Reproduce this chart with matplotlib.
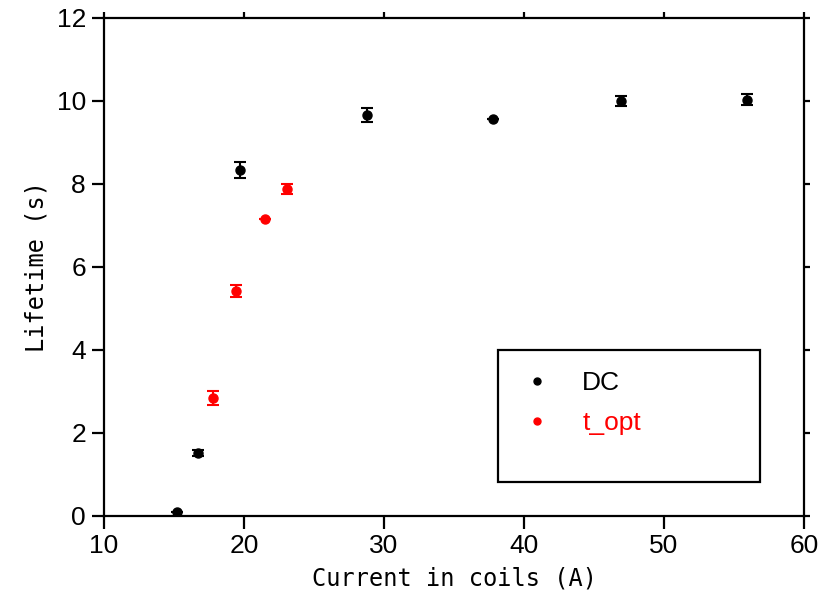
import matplotlib.pyplot as plt
from matplotlib.lines import Line2D
from matplotlib.patches import Rectangle

# DC series
dc_current = [15.2, 16.7, 19.7, 28.8, 37.8, 46.9, 55.9]
dc_lifetime = [0.10, 1.51, 8.33, 9.66, 9.57, 10.00, 10.03]
dc_err = [0.0, 0.07, 0.19, 0.16, 0.0, 0.13, 0.13]

# t_opt series
opt_current = [17.8, 19.4, 21.5, 23.1]
opt_lifetime = [2.84, 5.42, 7.16, 7.88]
opt_err = [0.16, 0.15, 0.0, 0.13]

x_ticks = [10, 20, 30, 40, 50, 60]
y_ticks = [0, 2, 4, 6, 8, 10, 12]

fig = plt.figure(figsize=(8.21, 5.92), dpi=100)
ax = fig.add_axes([0.1267, 0.1284, 0.8526, 0.8412])

ax.errorbar(dc_current, dc_lifetime, yerr=dc_err, fmt="o", color="black",
            markersize=6.5, capsize=4, elinewidth=1.5, capthick=1.5)
ax.errorbar(opt_current, opt_lifetime, yerr=opt_err, fmt="o", color="red",
            markersize=6.5, capsize=4, elinewidth=1.5, capthick=1.5)

ax.set_xlim(10, 60)
ax.set_ylim(0, 12)
ax.set_xticks(x_ticks)
ax.set_yticks(y_ticks)

for s in ax.spines.values():
    s.set_linewidth(1.6)

ax.tick_params(axis="both", which="major", direction="out", length=9,
               width=1.6, labelsize=19, pad=4, top=True, right=True)
for t in ax.xaxis.get_major_ticks() + ax.yaxis.get_major_ticks():
    t.tick2line.set_markersize(4)
for lab in ax.get_xticklabels() + ax.get_yticklabels():
    lab.set_family("Liberation Sans")

ax.set_xlabel("Current in coils (A)", family="DejaVu Sans Mono",
              fontsize=17, labelpad=6)
ax.set_ylabel("Lifetime (s)", family="DejaVu Sans Mono", fontsize=17,
              labelpad=6)

# legend frame drawn as its own box, entries are plain dots
ax.add_patch(Rectangle((0.563, 0.068), 0.374, 0.265, transform=ax.transAxes,
                       fill=False, edgecolor="black", linewidth=1.6,
                       zorder=5))
handles = [Line2D([], [], ls="none", marker="o", color="black", markersize=5),
           Line2D([], [], ls="none", marker="o", color="red", markersize=5)]
leg = ax.legend(handles, ["DC", "t_opt"], loc="upper left",
                bbox_to_anchor=(0.574, 0.328), frameon=False,
                prop={"family": "Liberation Sans", "size": 19},
                handlelength=1.0, handletextpad=1.2, labelspacing=0.6,
                borderpad=0.2)
leg.get_texts()[0].set_color("black")
leg.get_texts()[1].set_color("red")

fig.savefig("out.png", dpi=100)
